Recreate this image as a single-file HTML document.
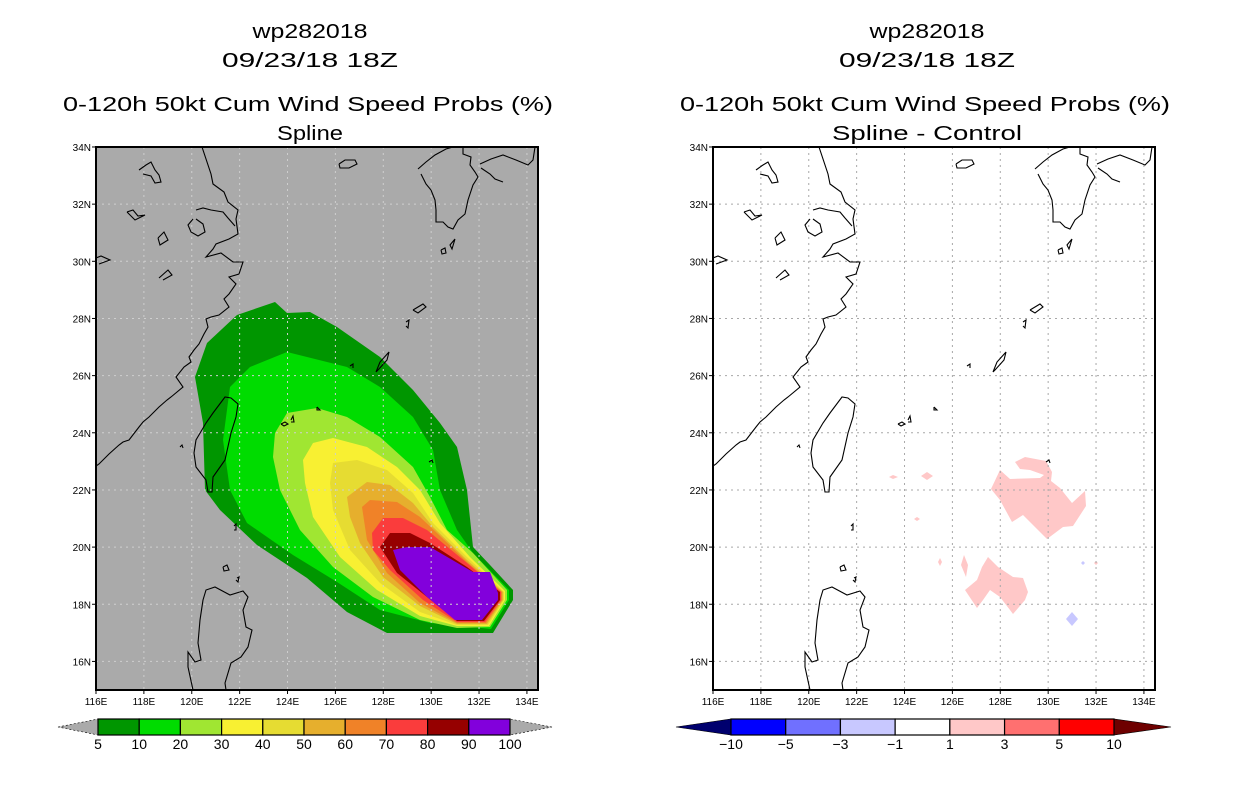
<!DOCTYPE html>
<html><head><meta charset="utf-8"><style>
html,body{margin:0;padding:0;background:#fff;}
svg{display:block;}
text{font-family:"Liberation Sans",sans-serif;fill:#000;}
</style></head><body>
<svg id="fig" width="1236" height="800" viewBox="0 0 1236 800" xmlns="http://www.w3.org/2000/svg">
<g>
<text x="310" y="38" font-size="20" text-anchor="middle" textLength="115" lengthAdjust="spacingAndGlyphs">wp282018</text>
<text x="310" y="67" font-size="20" text-anchor="middle" textLength="176" lengthAdjust="spacingAndGlyphs">09/23/18 18Z</text>
<text x="308" y="111" font-size="20" text-anchor="middle" textLength="490" lengthAdjust="spacingAndGlyphs">0-120h 50kt Cum Wind Speed Probs (%)</text>
<text x="310" y="140" font-size="20" text-anchor="middle" textLength="66" lengthAdjust="spacingAndGlyphs">Spline</text>
</g>
<g>
<text x="927" y="38" font-size="20" text-anchor="middle" textLength="115" lengthAdjust="spacingAndGlyphs">wp282018</text>
<text x="927" y="67" font-size="20" text-anchor="middle" textLength="176" lengthAdjust="spacingAndGlyphs">09/23/18 18Z</text>
<text x="925" y="111" font-size="20" text-anchor="middle" textLength="490" lengthAdjust="spacingAndGlyphs">0-120h 50kt Cum Wind Speed Probs (%)</text>
<text x="927" y="140" font-size="20" text-anchor="middle" textLength="190" lengthAdjust="spacingAndGlyphs">Spline - Control</text>
</g>
</svg>
<script>
// ---- data arrays ----
const latTicks=[16,18,20,22,24,26,28,30,32,34];
const lonTicks=[116,118,120,122,124,126,128,130,132,134];
const leftLevels=[5,10,20,30,40,50,60,70,80,90,100];
const leftColors=["#009600","#00dc00","#a0e632","#f8f032","#e6dc32","#e6af2d","#f08228","#fa3c3c","#960000","#8200dc"];
const rightLevels=[-10,-5,-3,-1,1,3,5,10];
const rightColors=["#0000ff","#7070ff","#c8c8ff","#ffffff","#ffc8c8","#ff7070","#ff0000"];

// map projection
const LON0=116, LAT0=15, PXLON=23.94, PXLAT=28.58;
const PANELS=[{x0:96,name:'left',bg:'#aaaaaa',grid:'#cfcfcf'},{x0:713,name:'right',bg:'#ffffff',grid:'#a8a8a8'}];
const TOP=147,BOT=690,W=442;
function xs(p,lon){return p.x0+(lon-LON0)*PXLON;}
function ys(lat){return BOT-(lat-LAT0)*PXLAT;}

// contour geometry (left panel pixels), one polygon per threshold level
const contours=[
[[195,377],[207,343],[237,315],[275,302],[287,313],[310,312],[337,327],[380,357],[413,390],[440,423],[457,447],[467,490],[473,547],[490,565],[513,590],[513,600],[493,633],[445,633],[387,633],[347,612],[307,578],[257,545],[220,510],[205,490],[203,423]],
[[223,440],[230,387],[250,367],[287,352],[347,367],[380,387],[413,417],[433,450],[440,490],[457,530],[473,553],[509,590],[509,600],[491,629],[453,625],[430,623],[380,610],[337,582],[293,555],[247,523],[230,490]],
[[273,457],[275,433],[287,413],[317,408],[347,417],[380,437],[413,467],[430,497],[447,530],[473,553],[507,590],[507,600],[490,627],[457,628],[420,620],[373,597],[333,567],[300,530],[280,490]],
[[305,483],[303,460],[313,443],[333,438],[367,447],[397,467],[420,490],[440,523],[470,557],[505,591],[505,600],[489,626],[457,626],[420,616],[377,590],[340,557],[313,517]],
[[330,483],[333,463],[357,460],[387,470],[413,493],[433,523],[467,557],[504,592],[504,600],[488,625],[457,625],[420,612],[380,583],[350,550],[333,510]],
[[350,517],[347,497],[367,482],[390,485],[413,503],[433,527],[467,560],[503,592],[503,600],[487,624],[457,624],[420,606],[383,577],[360,543]],
[[367,540],[362,507],[370,500],[397,502],[420,517],[437,533],[467,562],[502,592],[502,600],[486,623],[457,623],[420,603],[387,573]],
[[373,550],[372,533],[383,518],[403,518],[427,530],[467,563],[501,592],[501,600],[485,622],[457,622],[423,600],[390,570]],
[[397,573],[380,547],[390,533],[410,533],[430,543],[467,567],[500,592],[500,600],[484,621],[457,621],[427,597]],
[[400,570],[393,550],[407,547],[430,547],[473,572],[490,572],[498,593],[498,600],[482,620],[455,620],[427,597]]
];
// difference blobs (right panel pixels)
const posBlobs=[
[[1015,462],[1025,457],[1046,461],[1052,472],[1051,481],[1060,488],[1072,503],[1085,491],[1086,506],[1073,526],[1063,527],[1047,539],[1023,515],[1012,522],[1000,500],[991,489],[1000,470],[1010,479],[1040,478],[1044,475],[1030,470],[1020,469]],
[[988,557],[998,567],[1013,577],[1023,578],[1028,592],[1025,600],[1013,614],[1010,610],[1000,597],[990,590],[983,600],[977,608],[965,590],[977,580],[982,567]],
[[964,555],[968,565],[966,577],[961,565]],
[[921,476],[927,472],[933,476],[927,480]],
[[889,477],[893,475],[898,477],[893,479]],
[[914,519],[917,517],[920,519],[917,521]],
[[938,562],[940,558],[942,562],[940,566]],
[[1094,563],[1096,561],[1098,563],[1096,565]]
];
const negBlobs=[
[[1072,612],[1078,619],[1072,626],[1066,619]],
[[1081,563],[1083,561],[1085,563],[1083,565]]
];
// coastlines (right-panel pixel coords)
const coasts=[
[[819,147],[828,174],[830,184],[841,192],[845,202],[855,210],[853,219],[855,234],[846,239],[833,244],[830,249],[823,257],[838,253],[850,262],[860,262],[856,274],[846,277],[853,284],[846,294],[841,299],[846,307],[836,315],[828,317],[823,319],[825,327],[821,334],[816,344],[811,350],[806,357],[808,362],[801,367],[793,377],[800,387],[788,397],[784,400],[776,407],[766,417],[760,422],[756,427],[746,440],[740,442],[736,445],[726,454],[716,464],[713,466]],
[[813,210],[820,208],[828,210],[840,212],[845,218],[852,226]],
[[810,219],[805,225],[808,232],[815,236],[822,232],[820,224],[813,219]],
[[830,413],[842,397],[848,398],[855,404],[853,417],[848,433],[842,460],[830,477],[829,492],[825,492],[823,480],[813,467],[811,453],[813,440],[823,423],[830,413]],
[[810,690],[805,667],[805,652],[812,662],[818,660],[815,643],[817,620],[820,600],[823,590],[832,587],[847,595],[860,591],[865,597],[860,610],[863,627],[869,630],[865,647],[858,657],[848,663],[842,683],[843,690]],
[[993,372],[997,362],[1006,352],[1004,360],[995,370],[993,372]],
[[1023,322],[1026,320],[1025,328],[1023,326]],
[[1030,310],[1040,304],[1043,307],[1035,313],[1030,310]],
[[1035,169],[1043,162],[1052,155],[1063,149],[1070,147]],
[[1080,147],[1080,154],[1088,157],[1087,165],[1092,172],[1095,177],[1090,185],[1085,200],[1082,214],[1075,220],[1070,229],[1065,227],[1060,222],[1053,222],[1053,210],[1052,200],[1048,190],[1043,184],[1038,174]],
[[1097,164],[1108,159],[1120,155],[1133,160],[1145,165],[1150,160],[1152,147]],
[[1098,168],[1107,174],[1112,179],[1120,182]],
[[1072,239],[1069,249],[1067,245],[1072,239]],
[[1058,250],[1062,248],[1063,253],[1059,254],[1058,250]],
[[956,164],[962,160],[972,160],[974,164],[966,168],[957,168],[956,164]],
[[756,170],[763,165],[768,162],[772,170],[776,175],[778,182],[772,183],[768,176],[760,174]],
[[744,212],[750,210],[755,216],[762,215],[752,220],[744,212]],
[[775,238],[781,232],[785,240],[777,245],[775,238]],
[[776,278],[785,270],[789,275],[780,280]],
[[713,258],[718,256],[727,260],[716,264]],
[[797,447],[799,445],[800,448]],
[[851,526],[853,524],[853,530],[851,530]],
[[840,567],[844,565],[846,570],[841,571],[840,567]],
[[854,578],[856,577],[855,582],[853,580]],
[[967,366],[970,364],[970,368]],
[[934,407],[937,410],[934,410],[934,407]],
[[898,424],[902,422],[905,424],[901,426],[898,424]],
[[908,420],[910,416],[911,422],[908,422]],
[[1046,462],[1049,460],[1050,463]]
];

const NS='http://www.w3.org/2000/svg';
const svg=document.getElementById('fig');
function mk(tag,attrs,parent){const e=document.createElementNS(NS,tag);for(const k in attrs)e.setAttribute(k,attrs[k]);(parent||svg).appendChild(e);return e;}
function pts(arr,dx){return arr.map(p=>(p[0]+dx)+','+p[1]).join(' ');}

PANELS.forEach((p,pi)=>{
  const dx=pi===0?-617:0;
  const g=mk('g',{});
  
  
  const clipId='clip'+pi;
  const cp=mk('clipPath',{id:clipId},g);
  mk('rect',{x:p.x0,y:TOP,width:W,height:BOT-TOP},cp);
  const bg=mk('rect',{x:p.x0,y:TOP,width:W,height:BOT-TOP,fill:p.bg},g);
  
  
  const inner=mk('g',{'clip-path':'url(#'+clipId+')'},g);
  if(pi===0){
    contours.forEach((c,i)=>{
      const pg=mk('polygon',{points:pts(c,0),fill:leftColors[i]},inner);
      
      
    });
  } else {
    posBlobs.forEach((c)=>{
      const pg=mk('polygon',{points:pts(c,0),fill:rightColors[4]},inner);
      
      
    });
    negBlobs.forEach((c)=>{
      const pg=mk('polygon',{points:pts(c,0),fill:rightColors[2]},inner);
      
      
    });
  }
  // grid
  lonTicks.slice(1).forEach(lon=>{
    const l=mk('line',{x1:xs(p,lon),x2:xs(p,lon),y1:TOP,y2:BOT,stroke:p.grid,'stroke-width':1,'stroke-dasharray':'2,4'},inner);
    
    
  });
  latTicks.slice(0,-1).forEach(lat=>{
    const l=mk('line',{x1:p.x0,x2:p.x0+W,y1:ys(lat),y2:ys(lat),stroke:p.grid,'stroke-width':1,'stroke-dasharray':'2,4'},inner);
    
    
  });
  // coasts
  coasts.forEach(c=>{
    const pl=mk('polyline',{points:pts(c,dx),fill:'none',stroke:'#000','stroke-width':1.1},inner);
    
    
  });
  const fr=mk('rect',{x:p.x0,y:TOP,width:W,height:BOT-TOP,fill:'none',stroke:'#000','stroke-width':2},g);
  
  
  // axis labels
  latTicks.forEach(lat=>{
    mk('line',{x1:p.x0-4,x2:p.x0,y1:ys(lat),y2:ys(lat),stroke:'#000'},g);
    const t=mk('text',{x:p.x0-5,y:ys(lat)+4,'font-size':10,'text-anchor':'end'},g);
    t.textContent=lat+'N';
    
    
  });
  lonTicks.forEach(lon=>{
    mk('line',{x1:xs(p,lon),x2:xs(p,lon),y1:BOT,y2:BOT+4,stroke:'#000'},g);
    const t=mk('text',{x:xs(p,lon),y:BOT+15,'font-size':10,'text-anchor':'middle'},g);
    t.textContent=lon+'E';
    
    
  });
});

// colorbars
function colorbar(name,x0,x1,tipL,tipR,colors,levels,leftTip,rightTip){
  const g=mk('g',{});
  
  
  const y0=719,y1=735,ym=727;
  const w=(x1-x0)/colors.length;
  mk('polygon',{points:`${tipL},${ym} ${x0},${y0} ${x0},${y1}`,fill:leftTip,stroke:'#000','stroke-width':0.6,'stroke-dasharray':leftTip==='#aaaaaa'?'2,2':'none'},g);
  mk('polygon',{points:`${tipR},${ym} ${x1},${y0} ${x1},${y1}`,fill:rightTip,stroke:'#000','stroke-width':0.6,'stroke-dasharray':rightTip==='#aaaaaa'?'2,2':'none'},g);
  colors.forEach((c,i)=>{
    const r=mk('rect',{x:x0+i*w,y:y0,width:w,height:y1-y0,fill:c,stroke:'#000','stroke-width':1.2},g);
    
    
  });
  const step=(x1-x0)/(levels.length-1);
  levels.forEach((v,i)=>{
    const t=mk('text',{x:x0+i*step,y:749,'font-size':14,'text-anchor':'middle'},g);
    t.textContent=String(v).replace('-','\u2212');
    
    
  });
}
colorbar('left-colorbar',98,510,58,552,leftColors,leftLevels,'#aaaaaa','#aaaaaa');
colorbar('right-colorbar',731,1114,676,1171,rightColors,rightLevels,'#00006e','#6e0000');
</script>
</body></html>
